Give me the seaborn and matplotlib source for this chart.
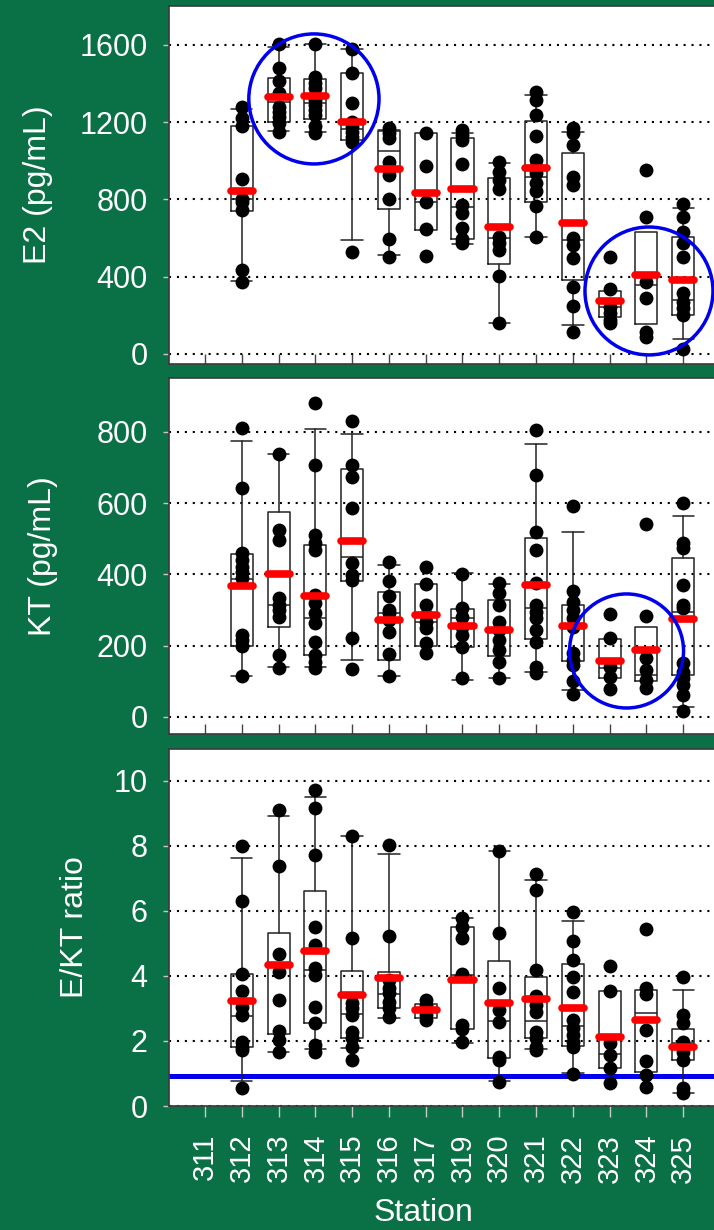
import numpy as np
import pandas as pd
import matplotlib
matplotlib.use("Agg")
import matplotlib.pyplot as plt
from matplotlib.patches import Ellipse
import seaborn as sns

nan = np.nan

stations = ["311", "312", "313", "314", "315", "316", "317",
            "319", "320", "321", "322", "323", "324", "325"]

# ---- E2 (pg/mL) ----
e2_values = [
    [],
    [374, 435, 745, 786, 804, 906, 1180, 1220, 1280],
    [1150, 1194, 1228, 1254, 1280, 1349, 1414, 1478, 1604],
    [1145, 1180, 1237, 1263, 1289, 1314, 1375, 1400, 1435, 1604],
    [530, 1099, 1125, 1150, 1176, 1202, 1301, 1456, 1577],
    [504, 593, 800, 926, 961, 995, 1116, 1142, 1168],
    [507, 645, 785, 974, 1142],
    [573, 593, 650, 728, 771, 983, 1107, 1133, 1159],
    [162, 404, 538, 573, 607, 852, 900, 943, 992],
    [607, 766, 845, 887, 935, 969, 1004, 1128, 1237, 1314, 1357],
    [115, 248, 348, 495, 564, 598, 874, 918, 1081, 1142, 1168],
    [162, 176, 210, 245, 335, 504],
    [90, 116, 292, 374, 711, 952],
    [24, 202, 236, 271, 314, 500, 573, 633, 711, 776],
]
e2_q1 = [nan, 742, 1199, 1214, 1107, 749, 642, 593, 466, 785, 383, 193, 155, 202]
e2_median = [nan, 800, 1306, 1300, 1165, 1052, 785, 762, 598, 914, 590, 245, 357, 279]
e2_q3 = [nan, 1180, 1430, 1423, 1452, 1154, 1142, 1116, 909, 1206, 1038, 328, 630, 607]
e2_whisker_low = [nan, 378, 1154, 1147, 590, 510, nan, 569, 162, 607, 150, nan, nan, 76]
e2_whisker_high = [nan, 1266, 1590, 1604, 1577, 1160, nan, 1145, 990, 1340, 1150, nan, nan, 754]
e2_mean = [nan, 843, 1332, 1335, 1202, 955, 835, 852, 659, 961, 676, 274, 407, 383]

# ---- KT (pg/mL) ----
kt_values = [
    [],
    [115, 200, 216, 230, 389, 406, 422, 440, 459, 643, 810],
    [136, 174, 281, 300, 314, 333, 495, 525, 739],
    [136, 155, 174, 211, 263, 291, 319, 342, 468, 487, 510, 707, 882],
    [135, 221, 384, 398, 431, 587, 674, 707, 831],
    [115, 176, 239, 272, 291, 300, 338, 380, 434],
    [178, 207, 250, 267, 286, 314, 373, 422],
    [108, 197, 230, 253, 281, 305, 401],
    [108, 155, 188, 216, 244, 267, 314, 347, 375],
    [122, 141, 211, 244, 277, 295, 314, 375, 468, 518, 679, 805],
    [64, 101, 146, 160, 179, 253, 277, 300, 323, 352, 592],
    [79, 113, 141, 221, 289],
    [82, 104, 132, 166, 284, 540],
    [17, 62, 90, 108, 127, 150, 305, 314, 370, 475, 487, 599],
]
kt_q1 = [nan, 200, 253, 174, 381, 160, 200, 197, 171, 218, 157, 110, 101, 118]
kt_median = [nan, 387, 314, 277, 448, 291, 265, 277, 245, 305, 255, 136, 118, 295]
kt_q3 = [nan, 456, 576, 481, 697, 350, 372, 302, 328, 503, 314, 219, 253, 447]
kt_whisker_low = [nan, 115, 139, 139, 160, 115, nan, 104, 108, 125, 76, nan, nan, 29]
kt_whisker_high = [nan, 775, 739, 807, 793, 426, nan, 403, 372, 765, 518, nan, nan, 565]
kt_mean = [nan, 366, 400, 340, 494, 272, 286, 255, 244, 370, 255, 158, 188, 275]

# ---- E/KT ratio ----
ratio_values = [
    [],
    [0.54, 1.72, 1.83, 1.98, 2.80, 3.06, 3.54, 4.05, 6.29, 8.00],
    [1.65, 2.03, 2.31, 3.26, 4.13, 4.67, 7.37, 9.09],
    [1.67, 1.88, 2.54, 3.06, 4.03, 4.24, 4.95, 5.50, 7.72, 9.18, 9.72],
    [1.42, 1.83, 2.08, 2.29, 2.80, 3.01, 3.16, 5.18, 8.29],
    [2.75, 3.01, 3.21, 3.47, 3.62, 3.88, 5.24, 8.03],
    [2.65, 2.80, 2.95, 3.11, 3.26],
    [1.98, 2.37, 2.49, 4.05, 5.16, 5.52, 5.79],
    [0.75, 1.40, 1.52, 2.58, 2.95, 3.64, 5.31, 7.85],
    [1.72, 1.83, 2.08, 2.29, 2.90, 3.11, 3.37, 4.18, 6.63, 7.13],
    [0.97, 1.83, 1.98, 2.18, 2.39, 2.65, 3.52, 3.98, 4.49, 5.06, 5.98],
    [0.70, 1.18, 1.57, 1.93, 3.54, 4.31],
    [0.58, 0.95, 1.37, 2.34, 3.44, 3.64, 5.45],
    [0.39, 0.54, 1.42, 1.67, 1.83, 1.98, 2.54, 2.80, 3.96],
]
ratio_q1 = [nan, 1.81, 2.22, 2.54, 2.08, 3.00, 2.72, 2.36, 1.47, 2.08, 1.85, 1.16, 1.06, 1.42]
ratio_median = [nan, 2.78, 4.40, 4.17, 2.82, 3.44, 2.95, 4.03, 2.62, 2.62, 2.46, 1.59, 2.85, 1.95]
ratio_q3 = [nan, 4.05, 5.33, 6.62, 4.15, 4.13, 3.13, 5.50, 4.46, 3.96, 4.36, 3.54, 3.57, 2.36]
ratio_whisker_low = [nan, 0.78, 1.67, 1.74, 1.77, 2.72, nan, 1.93, 0.77, 1.74, 1.01, nan, nan, 0.41]
ratio_whisker_high = [nan, 7.64, 8.92, 9.50, 8.29, 7.74, nan, 5.78, 7.83, 6.95, 5.69, nan, nan, 3.57]
ratio_mean = [nan, 3.24, 4.34, 4.77, 3.40, 3.93, 2.95, 3.88, 3.18, 3.29, 3.00, 2.13, 2.64, 1.81]
ratio_reference = 0.92

# ---- styling ----
GREEN = "#0a7046"
BOX_COLOR = "#222222"
TICK_LIGHT = "#c8c8c8"
BLUE = "#0000ee"

sns.set_style("white")
plt.rcParams["font.family"] = ["Liberation Sans", "DejaVu Sans"]

fig = plt.figure(figsize=(7.14, 12.30), dpi=100)
fig.patch.set_facecolor(GREEN)

W, H = 714.0, 1230.0
LEFT, RIGHT = 169.0, 724.0


def panel_axes(top_px, bottom_px):
    return fig.add_axes([LEFT / W, (H - bottom_px) / H,
                         (RIGHT - LEFT) / W, (bottom_px - top_px) / H])


def draw_panel(ax, values, q1, med, q3, wlo, whi, mean):
    rows = [(s, v) for s, vals in zip(stations, values) for v in vals]
    df = pd.DataFrame(rows, columns=["station", "value"])
    sns.stripplot(data=df, x="station", y="value", order=stations,
                  jitter=False, color="black", size=10, linewidth=0,
                  ax=ax, zorder=3)

    stats, positions, whiskered = [], [], []
    for i in range(len(stations)):
        if np.isnan(q1[i]):
            continue
        has_w = not np.isnan(wlo[i])
        stats.append(dict(q1=q1[i], med=med[i], q3=q3[i],
                          whislo=wlo[i] if has_w else q1[i],
                          whishi=whi[i] if has_w else q3[i],
                          mean=mean[i], fliers=[]))
        positions.append(i)
        whiskered.append(has_w)

    line = dict(color=BOX_COLOR, linewidth=1.1)
    art = ax.bxp(stats, positions=positions, widths=0.6, capwidths=0.58,
                 showfliers=False, showmeans=True, meanline=True,
                 manage_ticks=False,
                 boxprops=dict(line, zorder=2), whiskerprops=dict(line, zorder=2),
                 capprops=dict(line, zorder=2), medianprops=dict(line, zorder=2),
                 meanprops=dict(color="red", linestyle="-", linewidth=5.5,
                                solid_capstyle="round", zorder=4))
    for k, has_w in enumerate(whiskered):
        if not has_w:
            for part in ("whiskers", "caps"):
                art[part][2 * k].set_visible(False)
                art[part][2 * k + 1].set_visible(False)

    ax.set_xlim(-0.98, 14.11)
    ax.set_facecolor("white")
    for side in ax.spines.values():
        side.set_color("#3a3a3a")
        side.set_linewidth(1.2)
    ax.yaxis.grid(True, color="black", linestyle=(0, (1, 2.8)), linewidth=1.5)
    ax.xaxis.grid(False)
    ax.set_axisbelow(True)
    ax.tick_params(axis="y", direction="out", length=4.5, width=1,
                   color=TICK_LIGHT, labelcolor="white", labelsize=22, pad=11,
                   left=True)
    ax.set_xlabel("")


def ring(ax, cx, cy, w, h):
    ax.add_patch(Ellipse((cx, cy), w, h, fill=False, edgecolor=BLUE,
                         linewidth=2.5, zorder=5, clip_on=False))


# Panel 1: E2
ax1 = panel_axes(6, 364)
draw_panel(ax1, e2_values, e2_q1, e2_median, e2_q3,
           e2_whisker_low, e2_whisker_high, e2_mean)
ax1.set_ylim(-52, 1801)
ax1.set_yticks([0, 400, 800, 1200, 1600])
ax1.tick_params(axis="x", direction="in", length=7, width=1,
                color="#444444", labelbottom=False, bottom=True)
ax1.set_ylabel("E2 (pg/mL)", color="white", fontsize=23, va="center")
ax1.yaxis.set_label_coords((38 - LEFT) / (RIGHT - LEFT), 0.5)
ring(ax1, 2.96, 1320, 3.54, 673)
ring(ax1, 12.07, 326, 3.48, 662)

# Panel 2: KT
ax2 = panel_axes(378, 734)
draw_panel(ax2, kt_values, kt_q1, kt_median, kt_q3,
           kt_whisker_low, kt_whisker_high, kt_mean)
ax2.set_ylim(-48, 951)
ax2.set_yticks([0, 200, 400, 600, 800])
ax2.tick_params(axis="x", direction="in", length=7, width=1,
                color="#444444", labelbottom=False, bottom=True)
ax2.set_ylabel("KT (pg/mL)", color="white", fontsize=23, va="center")
ax2.yaxis.set_label_coords((43 - LEFT) / (RIGHT - LEFT), 0.5)
ring(ax2, 11.46, 185, 3.10, 320)

# Panel 3: E/KT ratio
ax3 = panel_axes(749, 1106)
draw_panel(ax3, ratio_values, ratio_q1, ratio_median, ratio_q3,
           ratio_whisker_low, ratio_whisker_high, ratio_mean)
ax3.axhline(ratio_reference, color=BLUE, linewidth=3.6, zorder=1.5)
ax3.set_ylim(0, 10.98)
ax3.set_yticks([0, 2, 4, 6, 8, 10])
ax3.tick_params(axis="x", direction="out", length=8, width=1,
                color=TICK_LIGHT, labelcolor="white", labelsize=21,
                labelrotation=90, pad=12, bottom=True)
ax3.set_ylabel("E/KT ratio", color="white", fontsize=23, va="center")
ax3.yaxis.set_label_coords((75 - LEFT) / (RIGHT - LEFT), 0.5)
ax3.set_xlabel("Station", color="white", fontsize=23, va="center")
ax3.xaxis.set_label_coords((423 - LEFT) / (RIGHT - LEFT), (1106 - 1213) / 357)

fig.savefig("out.png", dpi=100, facecolor=GREEN)
